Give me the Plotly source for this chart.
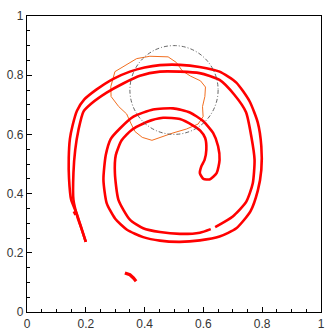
import plotly.graph_objects as go

# red interface: one closed contour (outer edge, then back along the inner edge)
red_x = [0.200, 0.186, 0.170, 0.150, 0.143, 0.142, 0.146, 0.155, 0.170, 0.195,
         0.237, 0.292, 0.350, 0.400, 0.452, 0.520, 0.587, 0.655, 0.712, 0.757,
         0.785, 0.797, 0.797, 0.785, 0.760, 0.712, 0.655, 0.588, 0.520, 0.452,
         0.395, 0.340, 0.300, 0.271, 0.260, 0.268, 0.285, 0.316, 0.362, 0.429,
         0.497, 0.554, 0.599, 0.633, 0.650, 0.655, 0.645, 0.621, 0.600, 0.588,
         0.593, 0.604, 0.610, 0.606, 0.590, 0.565, 0.520, 0.463, 0.407, 0.356,
         0.322, 0.302, 0.299, 0.311, 0.350, 0.395, 0.452, 0.520, 0.588, 0.625,
         None,
         0.640, 0.700, 0.746, 0.768, 0.774, 0.763, 0.745, 0.706, 0.655, 0.587,
         0.520, 0.452, 0.384, 0.327, 0.271, 0.220, 0.192, 0.175, 0.164, 0.158,
         0.158, 0.172, 0.186, 0.200]
red_y = [0.237, 0.280, 0.330, 0.380, 0.450, 0.520, 0.585, 0.630, 0.680, 0.718,
         0.752, 0.787, 0.812, 0.826, 0.834, 0.835, 0.828, 0.812, 0.775, 0.712,
         0.640, 0.560, 0.480, 0.410, 0.340, 0.283, 0.255, 0.242, 0.237, 0.241,
         0.253, 0.278, 0.315, 0.368, 0.447, 0.530, 0.585, 0.620, 0.660, 0.684,
         0.688, 0.674, 0.645, 0.605, 0.560, 0.514, 0.469, 0.448, 0.450, 0.469,
         0.492, 0.514, 0.548, 0.588, 0.612, 0.630, 0.652, 0.656, 0.642, 0.615,
         0.580, 0.530, 0.469, 0.379, 0.312, 0.283, 0.270, 0.264, 0.268, 0.280,
         None,
         0.287, 0.323, 0.373, 0.435, 0.514, 0.593, 0.675, 0.733, 0.784, 0.807,
         0.812, 0.812, 0.798, 0.772, 0.741, 0.705, 0.677, 0.615, 0.548, 0.470,
         0.379, 0.320, 0.280, 0.237]

# detached droplets
drop_x = [0.333, 0.350, 0.362, 0.371, None, 0.160, 0.166]
drop_y = [0.132, 0.126, 0.115, 0.104, None, 0.340, 0.328]

# orange interface
orange_x = [0.299, 0.340, 0.373, 0.418, 0.446, 0.480, 0.508, 0.528, 0.556, 0.590,
            0.607, 0.605, 0.597, 0.599, 0.582, 0.542, 0.497, 0.458, 0.425, 0.392,
            0.367, 0.353, 0.339, 0.312, 0.286, 0.285, 0.299]
orange_y = [0.812, 0.838, 0.856, 0.864, 0.864, 0.862, 0.843, 0.815, 0.797, 0.781,
            0.760, 0.728, 0.694, 0.660, 0.635, 0.618, 0.605, 0.592, 0.580, 0.590,
            0.610, 0.638, 0.669, 0.694, 0.728, 0.761, 0.812]

# reference circle
circle_center = (0.5, 0.75)
circle_radius = 0.15

tick_vals = [0, 0.2, 0.4, 0.6, 0.8, 1]
tick_text = ["0", "0.2", "0.4", "0.6", "0.8", "1"]

fig = go.Figure()
fig.add_trace(go.Scatter(x=orange_x, y=orange_y, mode="lines",
                         line=dict(color="#f26f21", width=1)))
fig.add_trace(go.Scatter(x=red_x, y=red_y, mode="lines",
                         line=dict(color="#ff0000", width=2.6, shape="spline", smoothing=0.6)))
fig.add_trace(go.Scatter(x=drop_x, y=drop_y, mode="lines",
                         line=dict(color="#ff0000", width=3.2)))

cx, cy = circle_center
fig.add_shape(type="circle", xref="x", yref="y",
              x0=cx - circle_radius, x1=cx + circle_radius,
              y0=cy - circle_radius, y1=cy + circle_radius,
              line=dict(color="#555555", width=0.9, dash="4px,2px,1px,2px"))

axis_style = dict(range=[0, 1], tickvals=tick_vals, ticktext=tick_text,
                  ticks="inside", ticklen=5, tickcolor="#000", tickwidth=1,
                  minor=dict(dtick=0.05, ticks="inside", ticklen=3, tickcolor="#000"),
                  showline=True, linecolor="#000", linewidth=1.2, mirror=True,
                  showgrid=False, zeroline=False, automargin=False,
                  tickfont=dict(family="Liberation Sans, Arial", size=12, color="#333"))

fig.update_layout(
    width=332, height=332,
    margin=dict(l=27, r=11, t=16, b=20),
    paper_bgcolor="white", plot_bgcolor="white",
    showlegend=False,
    xaxis=axis_style,
    yaxis=axis_style,
)
# page has a default body margin; drop it so the figure sits at the window corner
fig.write_html("out.html", config={"displayModeBar": False},
               post_script="document.body.style.margin='0';")
